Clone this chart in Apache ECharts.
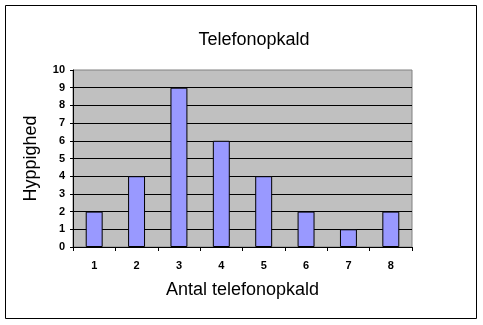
<!DOCTYPE html>
<html>
<head>
<meta charset="utf-8">
<script src="https://cdn.jsdelivr.net/npm/echarts@6/dist/echarts.min.js"></script>
<style>
html,body{margin:0;padding:0;background:#fff;}
#chart{width:483px;height:325px;}
</style>
</head>
<body>
<div id="chart"></div>
<script>
var titleText = "Telefonopkald";
var xAxisName = "Antal telefonopkald";
var yAxisName = "Hyppighed";
var categories = ["1", "2", "3", "4", "5", "6", "7", "8"];
var frequencies = [2, 4, 9, 6, 4, 2, 1, 2];
var yMin = 0, yMax = 10, yStep = 1;

var chart = echarts.init(document.getElementById('chart'), null, {renderer: 'canvas'});
var font = 'Arial, "Liberation Sans", sans-serif';
chart.setOption({
  animation: false,
  backgroundColor: '#ffffff',
  title: {
    text: titleText,
    left: 254,
    top: 31,
    padding: 0,
    textAlign: 'center',
    textStyle: {fontFamily: font, fontSize: 18, fontWeight: 'normal', color: '#000'}
  },
  graphic: [{
    type: 'rect',
    shape: {x: 5.5, y: 5.5, width: 471, height: 313},
    style: {fill: 'none', stroke: '#000', lineWidth: 1},
    silent: true
  }],
  grid: {
    left: 73, right: 71, top: 70, bottom: 78,
    show: true,
    backgroundColor: '#C0C0C0',
    borderColor: '#808080',
    borderWidth: 1
  },
  xAxis: {
    type: 'category',
    data: categories,
    name: xAxisName,
    nameLocation: 'middle',
    nameGap: 34,
    nameTextStyle: {fontFamily: font, fontSize: 18, color: '#000'},
    axisLine: {lineStyle: {color: '#000', width: 1}},
    axisTick: {show: true, alignWithLabel: false, length: 4, lineStyle: {color: '#000'}},
    axisLabel: {margin: 13, fontFamily: font, fontSize: 11, fontWeight: 'bold', color: '#000'},
    splitLine: {show: false}
  },
  yAxis: {
    type: 'value',
    min: yMin, max: yMax, interval: yStep,
    name: yAxisName,
    nameLocation: 'middle',
    nameGap: 33,
    nameTextStyle: {fontFamily: font, fontSize: 18, color: '#000'},
    axisLine: {show: true, lineStyle: {color: '#000', width: 1}},
    axisTick: {show: true, length: 3, lineStyle: {color: '#000'}},
    axisLabel: {margin: 8, fontFamily: font, fontSize: 11, fontWeight: 'bold', color: '#000'},
    splitLine: {show: true, showMaxLine: false, lineStyle: {color: '#000', width: 1}}
  },
  series: [{
    type: 'bar',
    data: frequencies,
    barWidth: '40%',
    itemStyle: {color: '#9999FF', borderColor: '#000', borderWidth: 1}
  }]
});
</script>
</body>
</html>
